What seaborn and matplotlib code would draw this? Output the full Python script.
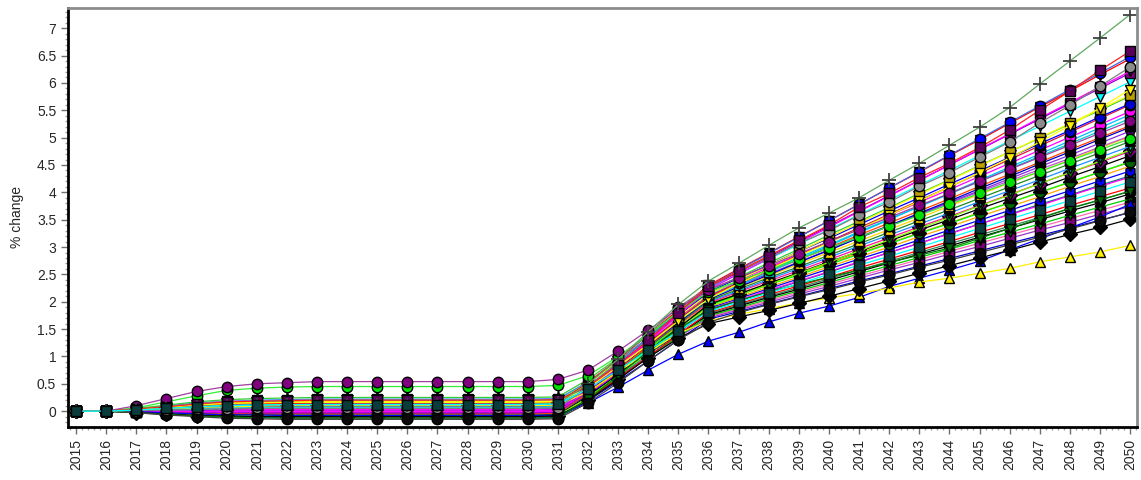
import matplotlib
matplotlib.use("Agg")
import matplotlib.pyplot as plt
from matplotlib.ticker import MultipleLocator, FuncFormatter
import seaborn as sns

years = list(range(2015, 2051))

# series values, 2015..2050 (% change)
b01 = [0, 0, -0.02, -0.05, -0.08, -0.10, -0.11, -0.12, -0.12, -0.12, -0.12, -0.12, -0.12, -0.12, -0.12, -0.12, -0.12,
       0.19, 0.55, 0.92, 1.30, 1.68, 1.82, 1.96, 2.10, 2.24, 2.38, 2.51, 2.65, 2.79, 2.93, 3.07, 3.21, 3.35, 3.49, 3.63]
b02 = [0, 0, 0.00, 0.01, 0.01, 0.02, 0.02, 0.02, 0.02, 0.02, 0.02, 0.02, 0.02, 0.02, 0.02, 0.02, 0.03,
       0.31, 0.64, 0.99, 1.35, 1.70, 1.85, 1.99, 2.14, 2.28, 2.43, 2.58, 2.72, 2.87, 3.01, 3.16, 3.31, 3.45, 3.60, 3.74]
b03 = [0, 0, -0.01, -0.03, -0.04, -0.05, -0.06, -0.06, -0.06, -0.06, -0.06, -0.06, -0.06, -0.06, -0.06, -0.06, -0.05,
       0.25, 0.61, 0.98, 1.36, 1.74, 1.89, 2.05, 2.20, 2.35, 2.51, 2.66, 2.81, 2.96, 3.12, 3.27, 3.42, 3.58, 3.73, 3.88]
b04 = [0, 0, 0.01, 0.03, 0.05, 0.07, 0.07, 0.08, 0.08, 0.08, 0.08, 0.08, 0.08, 0.08, 0.08, 0.08, 0.09,
       0.37, 0.70, 1.05, 1.41, 1.76, 1.92, 2.08, 2.23, 2.39, 2.55, 2.71, 2.87, 3.02, 3.18, 3.34, 3.50, 3.66, 3.81, 3.97]
b05 = [0, 0, -0.02, -0.04, -0.07, -0.08, -0.09, -0.10, -0.10, -0.10, -0.10, -0.10, -0.10, -0.10, -0.10, -0.10, -0.09,
       0.22, 0.60, 1.00, 1.40, 1.80, 1.96, 2.13, 2.29, 2.45, 2.62, 2.78, 2.94, 3.10, 3.27, 3.43, 3.59, 3.76, 3.92, 4.08]
b06 = [0, 0, 0.02, 0.05, 0.08, 0.10, 0.11, 0.12, 0.12, 0.12, 0.12, 0.12, 0.12, 0.12, 0.12, 0.12, 0.13,
       0.41, 0.75, 1.11, 1.46, 1.82, 1.99, 2.16, 2.33, 2.50, 2.67, 2.83, 3.00, 3.17, 3.34, 3.51, 3.68, 3.85, 4.02, 4.19]
b07 = [0, 0, 0.00, 0.00, 0.00, 0.00, 0.00, 0.00, 0.00, 0.00, 0.00, 0.00, 0.00, 0.00, 0.00, 0.00, 0.01,
       0.32, 0.69, 1.08, 1.47, 1.86, 2.03, 2.21, 2.38, 2.55, 2.73, 2.90, 3.07, 3.24, 3.42, 3.59, 3.76, 3.94, 4.11, 4.28]
b08 = [0, 0, -0.01, -0.02, -0.03, -0.03, -0.04, -0.04, -0.04, -0.04, -0.04, -0.04, -0.04, -0.04, -0.04, -0.04, -0.03,
       0.29, 0.67, 1.07, 1.48, 1.88, 2.06, 2.24, 2.42, 2.60, 2.78, 2.95, 3.13, 3.31, 3.49, 3.67, 3.85, 4.03, 4.21, 4.39]
b09 = [0, 0, 0.03, 0.08, 0.12, 0.15, 0.17, 0.17, 0.18, 0.18, 0.18, 0.18, 0.18, 0.18, 0.18, 0.18, 0.19,
       0.47, 0.82, 1.18, 1.54, 1.90, 2.08, 2.27, 2.45, 2.64, 2.82, 3.00, 3.19, 3.37, 3.56, 3.74, 3.92, 4.11, 4.29, 4.48]
b10 = [0, 0, 0.01, 0.02, 0.03, 0.03, 0.04, 0.04, 0.04, 0.04, 0.04, 0.04, 0.04, 0.04, 0.04, 0.04, 0.05,
       0.36, 0.74, 1.14, 1.53, 1.93, 2.12, 2.31, 2.49, 2.68, 2.87, 3.06, 3.25, 3.43, 3.62, 3.81, 4.00, 4.19, 4.37, 4.56]
b11 = [0, 0, -0.01, -0.03, -0.05, -0.07, -0.07, -0.08, -0.08, -0.08, -0.08, -0.08, -0.08, -0.08, -0.08, -0.08, -0.07,
       0.27, 0.67, 1.10, 1.52, 1.95, 2.14, 2.34, 2.53, 2.73, 2.92, 3.11, 3.31, 3.50, 3.70, 3.89, 4.08, 4.28, 4.47, 4.67]
b12 = [0, 0, 0.02, 0.04, 0.07, 0.08, 0.09, 0.10, 0.10, 0.10, 0.10, 0.10, 0.10, 0.10, 0.10, 0.10, 0.11,
       0.42, 0.80, 1.19, 1.59, 1.98, 2.18, 2.38, 2.57, 2.77, 2.97, 3.17, 3.37, 3.56, 3.76, 3.96, 4.16, 4.36, 4.55, 4.75]
b13 = [0, 0, 0.04, 0.09, 0.15, 0.18, 0.20, 0.21, 0.22, 0.22, 0.22, 0.22, 0.22, 0.22, 0.22, 0.22, 0.23,
       0.52, 0.88, 1.25, 1.63, 2.00, 2.20, 2.41, 2.61, 2.81, 3.02, 3.22, 3.42, 3.62, 3.83, 4.03, 4.23, 4.44, 4.64, 4.84]
b14 = [0, 0, 0.00, -0.01, -0.01, -0.02, -0.02, -0.02, -0.02, -0.02, -0.02, -0.02, -0.02, -0.02, -0.02, -0.02, -0.01,
       0.33, 0.74, 1.16, 1.59, 2.02, 2.23, 2.44, 2.64, 2.85, 3.06, 3.27, 3.48, 3.68, 3.89, 4.10, 4.31, 4.52, 4.72, 4.93]
b15 = [0, 0, 0.01, 0.03, 0.04, 0.05, 0.06, 0.06, 0.06, 0.06, 0.06, 0.06, 0.06, 0.06, 0.06, 0.06, 0.07,
       0.40, 0.80, 1.21, 1.63, 2.05, 2.26, 2.47, 2.69, 2.90, 3.11, 3.32, 3.53, 3.75, 3.96, 4.17, 4.38, 4.59, 4.81, 5.02]
b16 = [0, 0, 0.03, 0.06, 0.09, 0.12, 0.13, 0.13, 0.14, 0.14, 0.14, 0.14, 0.14, 0.14, 0.14, 0.14, 0.15,
       0.47, 0.86, 1.27, 1.67, 2.08, 2.30, 2.51, 2.73, 2.95, 3.17, 3.38, 3.60, 3.82, 4.03, 4.25, 4.47, 4.68, 4.90, 5.12]
b17 = [0, 0, -0.01, -0.02, -0.03, -0.04, -0.05, -0.05, -0.05, -0.05, -0.05, -0.05, -0.05, -0.05, -0.05, -0.05, -0.04,
       0.32, 0.75, 1.20, 1.65, 2.10, 2.32, 2.55, 2.77, 2.99, 3.22, 3.44, 3.66, 3.88, 4.11, 4.33, 4.55, 4.78, 5.00, 5.22]
b18 = [0, 0, 0.04, 0.08, 0.13, 0.17, 0.18, 0.19, 0.20, 0.20, 0.20, 0.20, 0.20, 0.20, 0.20, 0.20, 0.21,
       0.53, 0.91, 1.31, 1.72, 2.12, 2.35, 2.58, 2.81, 3.04, 3.28, 3.51, 3.74, 3.97, 4.20, 4.43, 4.66, 4.89, 5.12, 5.35]
b19 = [0, 0, 0.01, 0.01, 0.02, 0.03, 0.03, 0.03, 0.03, 0.03, 0.03, 0.03, 0.03, 0.03, 0.03, 0.03, 0.04,
       0.39, 0.81, 1.26, 1.70, 2.15, 2.39, 2.63, 2.86, 3.10, 3.34, 3.58, 3.82, 4.05, 4.29, 4.53, 4.77, 5.01, 5.24, 5.48]
b20 = [0, 0, 0.02, 0.04, 0.06, 0.08, 0.08, 0.09, 0.09, 0.09, 0.09, 0.09, 0.09, 0.09, 0.09, 0.09, 0.10,
       0.45, 0.86, 1.30, 1.74, 2.18, 2.43, 2.67, 2.92, 3.16, 3.41, 3.66, 3.90, 4.15, 4.39, 4.64, 4.89, 5.13, 5.38, 5.62]
b21 = [0, 0, 0.05, 0.11, 0.17, 0.21, 0.23, 0.24, 0.25, 0.25, 0.25, 0.25, 0.25, 0.25, 0.25, 0.25, 0.26,
       0.58, 0.97, 1.38, 1.79, 2.20, 2.45, 2.71, 2.96, 3.22, 3.47, 3.72, 3.98, 4.23, 4.49, 4.74, 4.99, 5.25, 5.50, 5.76]
b22 = [0, 0, 0.01, 0.03, 0.05, 0.06, 0.06, 0.07, 0.07, 0.07, 0.07, 0.07, 0.07, 0.07, 0.07, 0.07, 0.08,
       0.44, 0.87, 1.33, 1.78, 2.24, 2.51, 2.78, 3.05, 3.32, 3.59, 3.86, 4.13, 4.40, 4.67, 4.94, 5.21, 5.48, 5.75, 6.02]
b23 = [0, 0, -0.01, -0.01, -0.02, -0.03, -0.03, -0.03, -0.03, -0.03, -0.03, -0.03, -0.03, -0.03, -0.03, -0.03, -0.02,
       0.36, 0.82, 1.30, 1.78, 2.26, 2.54, 2.82, 3.10, 3.38, 3.66, 3.94, 4.22, 4.50, 4.78, 5.06, 5.34, 5.62, 5.90, 6.18]
b24 = [0, 0, 0.03, 0.06, 0.10, 0.13, 0.14, 0.14, 0.15, 0.15, 0.15, 0.15, 0.15, 0.15, 0.15, 0.15, 0.16,
       0.52, 0.95, 1.40, 1.85, 2.30, 2.60, 2.89, 3.19, 3.48, 3.78, 4.08, 4.37, 4.67, 4.96, 5.26, 5.56, 5.85, 6.15, 6.44]
c01 = [0, 0, 0.00, 0.00, 0.01, 0.01, 0.01, 0.01, 0.01, 0.01, 0.01, 0.01, 0.01, 0.01, 0.01, 0.01, 0.02,
       0.30, 0.64, 1.00, 1.36, 1.72, 1.87, 2.02, 2.17, 2.32, 2.47, 2.62, 2.77, 2.92, 3.07, 3.22, 3.37, 3.52, 3.67, 3.82]
c02 = [0, 0, -0.01, -0.03, -0.05, -0.06, -0.06, -0.07, -0.07, -0.07, -0.07, -0.07, -0.07, -0.07, -0.07, -0.07, -0.06,
       0.26, 0.64, 1.04, 1.44, 1.84, 2.02, 2.19, 2.37, 2.54, 2.72, 2.90, 3.07, 3.25, 3.42, 3.60, 3.78, 3.95, 4.13, 4.30]
c03 = [0, 0, 0.02, 0.05, 0.07, 0.09, 0.10, 0.11, 0.11, 0.11, 0.11, 0.11, 0.11, 0.11, 0.11, 0.11, 0.12,
       0.43, 0.80, 1.18, 1.57, 1.96, 2.15, 2.33, 2.52, 2.70, 2.89, 3.07, 3.26, 3.44, 3.63, 3.81, 4.00, 4.18, 4.37, 4.55]
c04 = [0, 0, 0.01, 0.01, 0.02, 0.03, 0.03, 0.03, 0.03, 0.03, 0.03, 0.03, 0.03, 0.03, 0.03, 0.03, 0.04,
       0.37, 0.77, 1.20, 1.62, 2.04, 2.27, 2.49, 2.72, 2.94, 3.17, 3.39, 3.62, 3.84, 4.07, 4.29, 4.52, 4.74, 4.97, 5.19]
c05 = [0, 0, 0.03, 0.07, 0.11, 0.14, 0.16, 0.16, 0.17, 0.17, 0.17, 0.17, 0.17, 0.17, 0.17, 0.17, 0.18,
       0.51, 0.90, 1.31, 1.73, 2.14, 2.40, 2.66, 2.92, 3.18, 3.44, 3.70, 3.96, 4.22, 4.48, 4.74, 5.00, 5.26, 5.52, 5.78]
c06 = [0, 0, 0.00, 0.00, -0.01, -0.01, -0.01, -0.01, -0.01, -0.01, -0.01, -0.01, -0.01, -0.01, -0.01, -0.01, 0.00,
       0.37, 0.82, 1.28, 1.75, 2.22, 2.51, 2.79, 3.08, 3.36, 3.65, 3.93, 4.22, 4.50, 4.79, 5.07, 5.36, 5.64, 5.93, 6.21]
c07 = [0, 0, 0.01, 0.02, 0.03, 0.04, 0.05, 0.05, 0.05, 0.05, 0.05, 0.05, 0.05, 0.05, 0.05, 0.05, 0.06,
       0.43, 0.88, 1.34, 1.81, 2.28, 2.58, 2.88, 3.18, 3.48, 3.78, 4.08, 4.38, 4.68, 4.98, 5.28, 5.58, 5.88, 6.18, 6.48]
c08 = [0, 0, -0.02, -0.05, -0.07, -0.09, -0.10, -0.11, -0.11, -0.11, -0.11, -0.11, -0.11, -0.11, -0.11, -0.11, -0.10,
       0.21, 0.59, 0.99, 1.38, 1.78, 1.94, 2.10, 2.26, 2.42, 2.58, 2.74, 2.90, 3.06, 3.22, 3.38, 3.54, 3.70, 3.86, 4.02]
c09 = [0, 0, 0.02, 0.05, 0.09, 0.11, 0.12, 0.12, 0.13, 0.13, 0.13, 0.13, 0.13, 0.13, 0.13, 0.13, 0.14,
       0.46, 0.84, 1.25, 1.66, 2.06, 2.30, 2.54, 2.78, 3.02, 3.26, 3.50, 3.74, 3.98, 4.22, 4.46, 4.70, 4.94, 5.18, 5.42]
c10 = [0, 0, 0.01, 0.03, 0.05, 0.07, 0.07, 0.08, 0.08, 0.08, 0.08, 0.08, 0.08, 0.08, 0.08, 0.08, 0.09,
       0.42, 0.83, 1.25, 1.68, 2.10, 2.35, 2.60, 2.85, 3.10, 3.35, 3.60, 3.85, 4.10, 4.35, 4.60, 4.85, 5.10, 5.35, 5.60]
c11 = [0, 0, -0.02, -0.04, -0.06, -0.08, -0.08, -0.09, -0.09, -0.09, -0.09, -0.09, -0.09, -0.09, -0.09, -0.09, -0.08,
       0.25, 0.65, 1.06, 1.48, 1.90, 2.11, 2.31, 2.52, 2.72, 2.93, 3.13, 3.34, 3.54, 3.75, 3.95, 4.16, 4.36, 4.57, 4.77]
c12 = [0, 0, 0.04, 0.09, 0.14, 0.18, 0.19, 0.20, 0.21, 0.21, 0.21, 0.21, 0.21, 0.21, 0.21, 0.21, 0.22,
       0.54, 0.93, 1.34, 1.75, 2.16, 2.37, 2.57, 2.78, 2.98, 3.19, 3.39, 3.60, 3.80, 4.01, 4.21, 4.42, 4.62, 4.83, 5.03]

blue_tri = [0, 0, -0.01, -0.03, -0.05, -0.07, -0.07, -0.08, -0.08, -0.08, -0.08, -0.08, -0.08, -0.08, -0.08, -0.08, -0.08,
            0.15, 0.44, 0.75, 1.04, 1.28, 1.44, 1.63, 1.79, 1.92, 2.08, 2.28, 2.43, 2.58, 2.74, 2.95, 3.15, 3.35, 3.55, 3.78]
yellow_tri = [0, 0, 0.02, 0.04, 0.07, 0.08, 0.09, 0.10, 0.10, 0.10, 0.10, 0.10, 0.10, 0.10, 0.10, 0.10, 0.11,
              0.35, 0.72, 1.08, 1.42, 1.65, 1.77, 1.87, 1.98, 2.07, 2.15, 2.25, 2.36, 2.43, 2.52, 2.61, 2.73, 2.82, 2.91, 3.03]
black_diamond = [0, 0, -0.03, -0.05, -0.08, -0.09, -0.10, -0.10, -0.10, -0.10, -0.10, -0.10, -0.10, -0.10, -0.10, -0.10, -0.09,
                 0.20, 0.58, 0.98, 1.33, 1.60, 1.72, 1.84, 1.97, 2.10, 2.24, 2.38, 2.52, 2.66, 2.80, 2.94, 3.09, 3.23, 3.36, 3.51]
dark_circle = [0, 0, -0.03, -0.07, -0.10, -0.13, -0.14, -0.15, -0.15, -0.15, -0.15, -0.15, -0.15, -0.15, -0.15, -0.15, -0.14,
               0.15, 0.52, 0.92, 1.30, 1.62, 1.80, 1.95, 2.09, 2.22, 2.36, 2.49, 2.63, 2.76, 2.90, 3.04, 3.18, 3.33, 3.48, 3.64]
green_vtri = [0, 0, -0.03, -0.06, -0.09, -0.11, -0.12, -0.13, -0.13, -0.13, -0.13, -0.13, -0.13, -0.13, -0.13, -0.13, -0.12,
              0.22, 0.65, 1.10, 1.50, 1.85, 2.02, 2.18, 2.32, 2.45, 2.58, 2.72, 2.85, 2.98, 3.16, 3.34, 3.52, 3.71, 3.86, 4.02]
yellow_vtri = [0, 0, 0.03, 0.07, 0.11, 0.14, 0.15, 0.16, 0.16, 0.16, 0.16, 0.16, 0.16, 0.16, 0.16, 0.16, 0.17,
               0.42, 0.82, 1.22, 1.65, 2.05, 2.33, 2.59, 2.84, 3.08, 3.33, 3.58, 3.84, 4.10, 4.36, 4.63, 4.92, 5.22, 5.54, 5.88]
lime_circle = [0, 0, 0.06, 0.17, 0.28, 0.38, 0.42, 0.44, 0.45, 0.45, 0.45, 0.45, 0.45, 0.45, 0.45, 0.45, 0.47,
               0.65, 1.00, 1.40, 1.82, 2.18, 2.38, 2.58, 2.78, 2.98, 3.18, 3.38, 3.58, 3.78, 3.98, 4.18, 4.38, 4.58, 4.78, 4.98]
purple_circle = [0, 0, 0.10, 0.23, 0.36, 0.45, 0.50, 0.52, 0.54, 0.54, 0.54, 0.54, 0.54, 0.54, 0.54, 0.54, 0.58,
                 0.75, 1.10, 1.48, 1.88, 2.22, 2.44, 2.66, 2.88, 3.10, 3.32, 3.54, 3.76, 3.98, 4.20, 4.42, 4.64, 4.86, 5.08, 5.30]
gray_circle = [0, 0, 0.01, 0.02, 0.03, 0.04, 0.05, 0.05, 0.05, 0.05, 0.05, 0.05, 0.05, 0.05, 0.05, 0.05, 0.06,
               0.45, 0.90, 1.42, 1.90, 2.27, 2.56, 2.80, 3.07, 3.30, 3.58, 3.82, 4.11, 4.36, 4.64, 4.92, 5.27, 5.59, 5.94, 6.29]
top_square = [0, 0, 0.04, 0.08, 0.13, 0.17, 0.18, 0.19, 0.20, 0.20, 0.20, 0.20, 0.20, 0.20, 0.20, 0.20, 0.21,
              0.45, 0.85, 1.30, 1.80, 2.28, 2.56, 2.84, 3.12, 3.40, 3.73, 3.98, 4.27, 4.53, 4.82, 5.14, 5.50, 5.85, 6.23, 6.58]
plus_series = [0, 0, 0.02, 0.05, 0.08, 0.10, 0.11, 0.12, 0.12, 0.12, 0.12, 0.12, 0.12, 0.12, 0.12, 0.12, 0.14,
               0.50, 0.95, 1.45, 1.95, 2.38, 2.70, 3.03, 3.35, 3.62, 3.90, 4.22, 4.53, 4.86, 5.19, 5.55, 5.98, 6.40, 6.82, 7.25]

# (values, line colour, marker, marker face colour) in drawing order
series = [
    (b01, "#0000cd", "o", "#000080"),
    (c01, "#ff69b4", "s", "#000000"),
    (b02, "#9932cc", "s", "#800080"),
    (b03, "#00cc00", "v", "#008000"),
    (c08, "#2e8b57", "o", "#0a0a0a"),
    (b04, "#000000", "*", "#000000"),
    (b05, "#ff0000", "o", "#000000"),
    (c02, "#008080", "o", "#008080"),
    (b07, "#ff00ff", "^", "#800080"),
    (b08, "#0000ff", "h", "#0000ff"),
    (b09, "#ffa500", "v", "#b8860b"),
    (c03, "#ff8c00", "D", "#000000"),
    (b10, "#00ff00", "o", "#006400"),
    (b11, "#000000", "s", "#000000"),
    (b12, "#ff1493", "D", "#800080"),
    (c11, "#7cfc00", "v", "#008000"),
    (b13, "#1e90ff", "v", "#00ced1"),
    (b14, "#228b22", "o", "#000000"),
    (b15, "#ffd700", "^", "#ffd700"),
    (c12, "#ba55d3", "^", "#800080"),
    (b16, "#8a2be2", "p", "#4b0082"),
    (c04, "#0000cd", "v", "#000080"),
    (b17, "#ff4500", "s", "#000000"),
    (b18, "#00ced1", "v", "#00ffff"),
    (c09, "#00bfff", "s", "#00ced1"),
    (b19, "#ff00ff", "o", "#ff00ff"),
    (c10, "#dc143c", "o", "#000000"),
    (b20, "#0000ff", "o", "#0000cd"),
    (b21, "#32cd32", "*", "#000000"),
    (c05, "#ffff00", "s", "#b8a000"),
    (b22, "#00ffff", "v", "#00ffff"),
    (b23, "#9400d3", "s", "#800080"),
    (c06, "#ff00ff", "v", "#800080"),
    (b24, "#ff0000", "v", "#4b004b"),
    (c07, "#4169e1", "o", "#0000ff"),
    (blue_tri, "#0000ff", "^", "#0000ff"),
    (yellow_tri, "#ffee00", "^", "#ffee00"),
    (black_diamond, "#000000", "D", "#000000"),
    (green_vtri, "#008000", "v", "#006400"),
    (dark_circle, "#404040", "o", "#0a0a0a"),
    (yellow_vtri, "#ffff00", "v", "#ffee00"),
    (gray_circle, "#7f7f7f", "o", "#8c8c8c"),
    (lime_circle, "#33ee33", "o", "#00dd00"),
    (purple_circle, "#a040a0", "o", "#800080"),
    (top_square, "#ff2020", "s", "#5a005a"),
    (plus_series, "#5fa85f", "+", "#404040"),
    (b06, "#00ffff", "s", "#0a3c3c"),
]

sns.set_style("ticks")
plt.rcParams["font.family"] = ["Liberation Sans", "DejaVu Sans"]

fig = plt.figure(figsize=(11.41, 4.8), dpi=100)
ax = fig.add_axes([68 / 1141, 53 / 480, (1137 - 68) / 1141, 419 / 480])

for z, (vals, lc, mk, fc) in enumerate(series):
    ec = fc if mk == "+" else "black"
    ms = 9.5 if mk in ("+", "*") else 7.5
    sns.lineplot(x=years, y=vals, ax=ax, color=lc, linewidth=0.9,
                 marker=mk, markersize=ms, markerfacecolor=fc,
                 markeredgecolor=ec, markeredgewidth=1.0 if mk != "+" else 1.3,
                 zorder=2 + z * 0.01)

ax.set_xlim(2014.73, 2050.23)
ax.set_ylim(-0.29, 7.37)
ax.set_xticks(years)
ax.set_xticklabels([str(y) for y in years], rotation=90, fontsize=10)
ax.xaxis.set_minor_locator(MultipleLocator(0.2))
ax.yaxis.set_major_locator(MultipleLocator(0.5))
ax.yaxis.set_minor_locator(MultipleLocator(0.1))
ax.yaxis.set_major_formatter(FuncFormatter(lambda v, _: f"{v:g}"))
ax.tick_params(axis="y", labelsize=10)
ax.tick_params(which="major", direction="out", length=5, width=1, color="#707070")
ax.tick_params(which="minor", direction="out", length=2.5, width=1, color="#a0a0a0")

for side in ("left", "bottom"):
    ax.spines[side].set_color("black")
    ax.spines[side].set_linewidth(2)
for side in ("top", "right"):
    ax.spines[side].set_visible(True)
    ax.spines[side].set_color("#8c8c8c")
    ax.spines[side].set_linewidth(2)

ax.set_xlabel("")
ax.set_ylabel("% change", fontsize=10, labelpad=9)

fig.savefig("out.png", dpi=100)
